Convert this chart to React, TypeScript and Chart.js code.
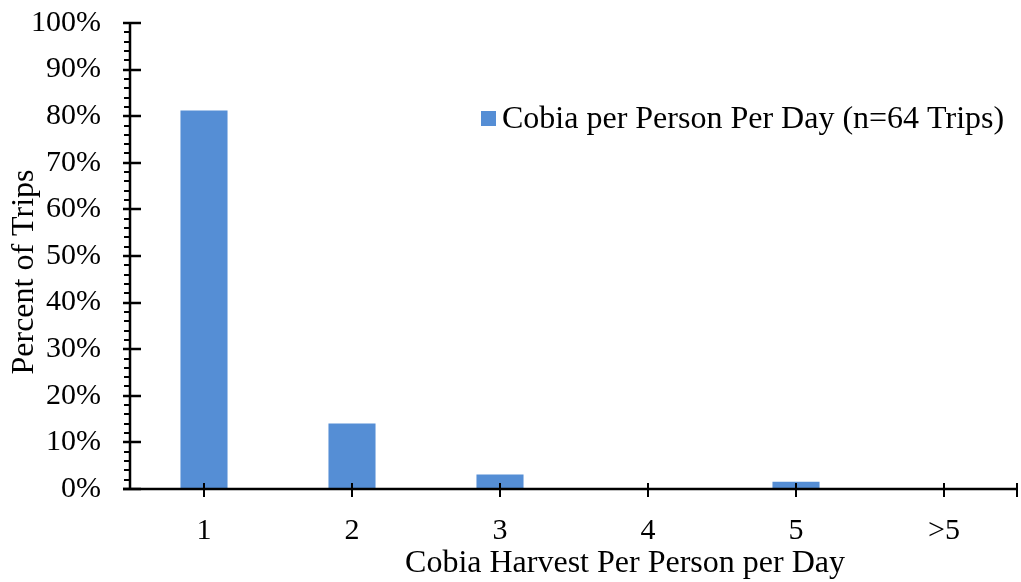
import React, { useEffect, useRef } from "react";
import { Chart, registerables } from "chart.js";

Chart.register(...registerables);

const categories = ["1", "2", "3", "4", "5", ">5"];
const percentValues = [81.25, 14.06, 3.125, 0, 1.5625, 0];
const seriesLabel = "Cobia per Person Per Day (n=64 Trips)";
const xTitle = "Cobia Harvest Per Person per Day";
const yTitle = "Percent of Trips";
const yMax = 100;
const yMajorStep = 10;
const yMinorStep = 2;

const FONT = "'Liberation Serif', 'Times New Roman', serif";
const BAR_COLOR = "#558ED5";

const axisPlugin = {
  id: "customAxes",
  afterDraw(chart: any) {
    const ctx = chart.ctx;
    const x = chart.scales.x;
    const y = chart.scales.y;
    const left = chart.chartArea.left;
    const right = chart.chartArea.right;
    const top = chart.chartArea.top;
    const bottom = chart.chartArea.bottom;
    ctx.save();
    ctx.strokeStyle = "#000";
    ctx.lineCap = "butt";
    ctx.lineWidth = 2.5;
    ctx.beginPath();
    ctx.moveTo(left, top - 1);
    ctx.lineTo(left, bottom);
    ctx.stroke();
    for (let v = 0; v <= yMax + 0.001; v += yMinorStep) {
      const py = Math.round(y.getPixelForValue(v));
      const major = Math.abs(v % yMajorStep) < 0.001;
      ctx.lineWidth = major ? 2.5 : 2;
      ctx.beginPath();
      if (major) {
        ctx.moveTo(left - 7, py);
        ctx.lineTo(left + 11, py);
      } else {
        ctx.moveTo(left - 6, py);
        ctx.lineTo(left, py);
      }
      ctx.stroke();
    }
    ctx.lineWidth = 2.5;
    ctx.beginPath();
    ctx.moveTo(left - 7, bottom);
    ctx.lineTo(right, bottom);
    ctx.stroke();
    ctx.lineWidth = 2;
    const xs: number[] = categories.map((_, i) => Math.round(x.getPixelForValue(i)));
    xs.push(right - 1);
    xs.forEach((px) => {
      ctx.beginPath();
      ctx.moveTo(px, bottom - 6);
      ctx.lineTo(px, bottom + 8);
      ctx.stroke();
    });
    ctx.fillStyle = BAR_COLOR;
    ctx.fillRect(481, 111, 15, 15);
    ctx.fillStyle = "#000";
    ctx.font = `32px ${FONT}`;
    ctx.textAlign = "left";
    ctx.textBaseline = "middle";
    ctx.fillText(seriesLabel, 502, 120);
    ctx.textAlign = "center";
    ctx.fillText(xTitle, 625, 564);
    ctx.translate(25, 272);
    ctx.rotate(-Math.PI / 2);
    ctx.fillText(yTitle, 0, 0);
    ctx.restore();
  },
};

export default function App() {
  const ref = useRef<HTMLCanvasElement | null>(null);
  useEffect(() => {
    document.body.style.margin = "0";
    const chart = new Chart(ref.current as HTMLCanvasElement, {
      type: "bar",
      data: {
        labels: categories,
        datasets: [
          {
            label: seriesLabel,
            data: percentValues,
            backgroundColor: BAR_COLOR,
            borderWidth: 0,
            barPercentage: 0.318,
            categoryPercentage: 1,
          },
        ],
      },
      options: {
        animation: false,
        responsive: false,
        maintainAspectRatio: false,
        layout: { padding: { left: 0, right: 3, top: 23, bottom: 0 } },
        plugins: { legend: { display: false }, tooltip: { enabled: false } },
        scales: {
          x: {
            grid: { display: false, drawTicks: false },
            border: { display: false },
            ticks: { color: "#000", font: { family: FONT, size: 30 }, padding: 24 },
            title: { display: false },
            afterFit(scale: any) {
              scale.height = 93;
              scale.paddingTop = 0;
              scale.paddingBottom = 0;
              scale.paddingLeft = 0;
              scale.paddingRight = 0;
            },
          },
          y: {
            min: 0,
            max: yMax,
            grid: { display: false, drawTicks: false },
            border: { display: false },
            ticks: {
              stepSize: yMajorStep,
              color: "#000",
              font: { family: FONT, size: 30 },
              padding: 29,
              callback: (v: any) => `${v}%`,
            },
            title: { display: false },
            afterFit(scale: any) {
              scale.width = 130;
              scale.paddingTop = 0;
              scale.paddingBottom = 0;
              scale.paddingLeft = 0;
              scale.paddingRight = 0;
            },
          },
        },
      },
      plugins: [axisPlugin],
    });
    return () => chart.destroy();
  }, []);
  return (
    <div style={{ position: "fixed", left: 0, top: 0, width: 1021, height: 582, background: "#fff" }}>
      <canvas ref={ref} width={1021} height={582} style={{ width: 1021, height: 582 }} />
    </div>
  );
}
